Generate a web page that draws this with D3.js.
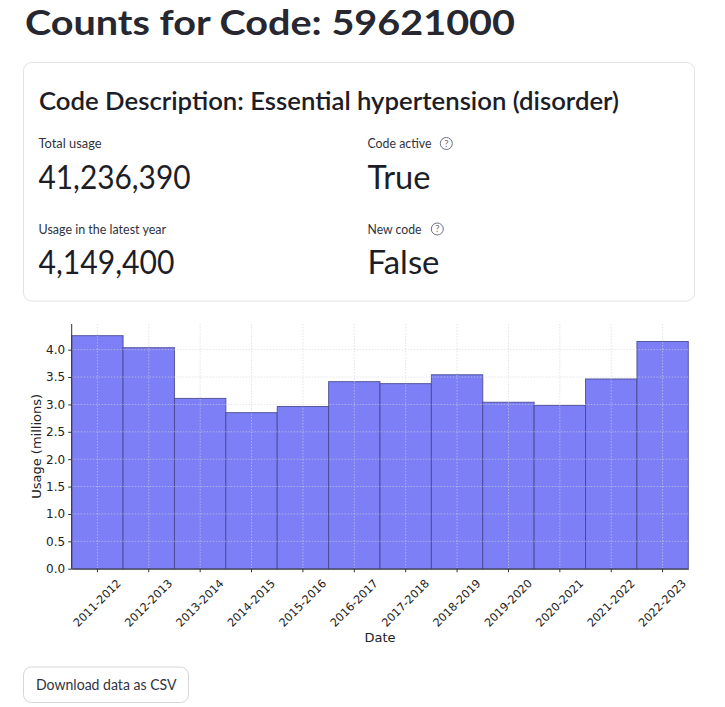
<!DOCTYPE html>
<html>
<head>
<meta charset="utf-8">
<script src="https://cdn.jsdelivr.net/npm/d3@7"></script>
<style>
  html, body { margin: 0; padding: 0; background: #ffffff; }
  svg { display: block; }
</style>
</head>
<body>
<div id="root"></div>
<script>
// ---------- data ----------
const codeId = "59621000";
const codeDescription = "Essential hypertension (disorder)";
const totalUsage = "41,236,390";
const latestUsage = "4,149,400";
const codeActive = "True";
const newCode = "False";

const categories = ["2011-2012","2012-2013","2013-2014","2014-2015","2015-2016","2016-2017",
                    "2017-2018","2018-2019","2019-2020","2020-2021","2021-2022","2022-2023"];
const usageMillions = [4.256, 4.036, 3.110, 2.850, 2.962, 3.416, 3.380, 3.542, 3.040, 2.982, 3.465, 4.1494];
const yTickValues = [0, 0.5, 1.0, 1.5, 2.0, 2.5, 3.0, 3.5, 4.0];

// ---------- page ----------
const W = 725, H = 707;
const svg = d3.select("#root").append("svg").attr("width", W).attr("height", H);

const uiFont = "Lato, 'Noto Sans', sans-serif";
const plotFont = "'DejaVu Sans', sans-serif";

function fitText(sel, width) {
  sel.attr("textLength", width).attr("lengthAdjust", "spacingAndGlyphs");
  return sel;
}

// title
fitText(svg.append("text").attr("x", 25).attr("y", 34.5)
  .attr("font-family", uiFont).attr("font-weight", 700).attr("font-size", 35)
  .attr("fill", "#262730").text("Counts for Code: " + codeId), 490);

// card
svg.append("rect").attr("x", 23.5).attr("y", 62.5).attr("width", 671).attr("height", 238.5)
  .attr("rx", 8).attr("fill", "#fff").attr("stroke", "#e1e2e6").attr("stroke-width", 1);

fitText(svg.append("text").attr("x", 39).attr("y", 110)
  .attr("font-family", uiFont).attr("font-weight", 600).attr("font-size", 25.5)
  .attr("fill", "#1c1d26").text("Code Description: " + codeDescription), 580);

const metrics = [
  {label: "Total usage", lw: 63, value: totalUsage, vw: 152, x: 38.5, ly: 148, vy: 189, help: false},
  {label: "Code active", lw: 64, value: codeActive, vw: 63, x: 367.5, ly: 148, vy: 189, help: true, hx: 446.3},
  {label: "Usage in the latest year", lw: 127.5, value: latestUsage, vw: 136, x: 38.5, ly: 233.5, vy: 274.3, help: false},
  {label: "New code", lw: 54, value: newCode, vw: 72, x: 367.5, ly: 233.5, vy: 274.3, help: true, hx: 437.3}
];
metrics.forEach(m => {
  fitText(svg.append("text").attr("x", m.x).attr("y", m.ly)
    .attr("font-family", uiFont).attr("font-size", 13.5).attr("fill", "#31333f").text(m.label), m.lw);
  fitText(svg.append("text").attr("x", m.x).attr("y", m.vy)
    .attr("font-family", uiFont).attr("font-weight", 400).attr("font-size", 32.5).attr("fill", "#1c1d26").text(m.value), m.vw);
  if (m.help) {
    const g = svg.append("g").attr("transform", `translate(${m.hx},${m.ly - 4.5})`);
    g.append("circle").attr("r", 6).attr("fill", "none").attr("stroke", "#6e707e").attr("stroke-width", 1);
    g.append("text").attr("y", 3.3).attr("text-anchor", "middle").attr("font-family", uiFont)
      .attr("font-size", 9.5).attr("fill", "#6e707e").text("?");
  }
});

// ---------- chart ----------
const plot = {left: 71.7, right: 688.3, top: 324, bottom: 568.7};

const x = d3.scaleBand().domain(categories).range([plot.left, plot.right]).padding(0);
const y = d3.scaleLinear().domain([0, d3.max(usageMillions) * 1.05]).range([plot.bottom, plot.top]);

// bars
svg.append("g").selectAll("rect").data(categories).join("rect")
  .attr("x", d => x(d))
  .attr("y", (d, i) => y(usageMillions[i]))
  .attr("width", x.bandwidth())
  .attr("height", (d, i) => y(0) - y(usageMillions[i]))
  .attr("fill", "#7c7ff5")
  .attr("stroke", "#45478f")
  .attr("stroke-opacity", 0.85)
  .attr("stroke-width", 1);

// grid (on top, faint dotted)
const grid = svg.append("g").attr("stroke", "#d4d4dc").attr("stroke-opacity", 0.75)
  .attr("stroke-dasharray", "1.5,1.5").attr("stroke-width", 0.8);
grid.selectAll("line.gy").data(yTickValues.filter(v => v > 0)).join("line").attr("class", "gy")
  .attr("x1", plot.left).attr("x2", plot.right)
  .attr("y1", d => y(d)).attr("y2", d => y(d));
grid.selectAll("line.gx").data(categories).join("line").attr("class", "gx")
  .attr("x1", d => x(d) + x.bandwidth() / 2).attr("x2", d => x(d) + x.bandwidth() / 2)
  .attr("y1", plot.top).attr("y2", plot.bottom);

// y axis
const yAxis = d3.axisLeft(y).tickValues(yTickValues).tickFormat(d3.format(".1f"))
  .tickSizeInner(3.5).tickSizeOuter(0).tickPadding(3);
const gy = svg.append("g").attr("transform", `translate(${plot.left},0)`).call(yAxis);
gy.select(".domain").attr("stroke", "#333").attr("stroke-width", 1)
  .attr("d", `M0,${plot.top}V${plot.bottom}`);
gy.selectAll(".tick line").attr("stroke", "#333");
gy.selectAll(".tick text").attr("font-family", plotFont).attr("font-size", 12).attr("fill", "#222");

// x axis
const xAxis = d3.axisBottom(x).tickSizeInner(3.5).tickSizeOuter(0).tickPadding(3);
const gx = svg.append("g").attr("transform", `translate(0,${plot.bottom})`).call(xAxis);
gx.select(".domain").attr("stroke", "#333").attr("stroke-width", 1);
gx.selectAll(".tick line").attr("stroke", "#333");
const fs = 11.3;
gx.selectAll(".tick text")
  .attr("font-family", plotFont).attr("font-size", fs).attr("fill", "#222")
  .attr("text-anchor", "middle").attr("dominant-baseline", "central")
  .attr("y", null).attr("dy", null)
  .each(function() {
    const L = this.getComputedTextLength();
    const h = fs * 1.1;
    const half = (L + h) / (2 * Math.SQRT2);
    d3.select(this).attr("transform", `translate(0,${3.5 + 5 + half}) rotate(-45)`);
  });

// axis labels
svg.append("text").attr("x", (plot.left + plot.right) / 2).attr("y", 641.5)
  .attr("text-anchor", "middle").attr("font-family", plotFont).attr("font-size", 13)
  .attr("fill", "#222").text("Date");
svg.append("text").attr("transform", `translate(40.5,${(plot.top + plot.bottom) / 2}) rotate(-90)`)
  .attr("text-anchor", "middle").attr("font-family", plotFont).attr("font-size", 13)
  .attr("fill", "#222").text("Usage (millions)");

// button
svg.append("rect").attr("x", 23.5).attr("y", 667).attr("width", 165).attr("height", 35.5)
  .attr("rx", 8).attr("fill", "#fff").attr("stroke", "#d6d6d9").attr("stroke-width", 1);
fitText(svg.append("text").attr("x", 36).attr("y", 690)
  .attr("font-family", uiFont).attr("font-size", 15.5).attr("fill", "#31333f").text("Download data as CSV"), 140.5);
</script>
</body>
</html>
